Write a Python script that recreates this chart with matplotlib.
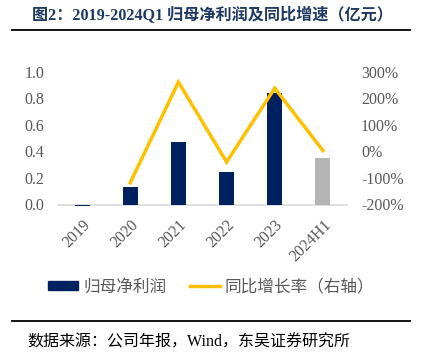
import matplotlib
matplotlib.use("Agg")
import matplotlib.pyplot as plt
from matplotlib.patches import Patch
from matplotlib.lines import Line2D

categories = ["2019", "2020", "2021", "2022", "2023", "2024H1"]
profit = [-0.01, 0.13, 0.47, 0.247, 0.84, 0.35]
growth = [None, -118, 261, -40, 238, 3]
left_ticks = [0.0, 0.2, 0.4, 0.6, 0.8, 1.0]
right_ticks = [-200, -100, 0, 100, 200, 300]

serif = ["Liberation Serif", "Noto Sans CJK SC"]
sans = ["Noto Sans CJK SC", "DejaVu Sans"]
tick_color = "#595959"

fig = plt.figure(figsize=(4.23, 3.6), dpi=100)
ax = fig.add_axes([58/423, 1-204.5/360, (347-58)/423, (204.5-71.7)/360])
ax2 = ax.twinx()

x = list(range(len(categories)))
colors = ["#002060"] * 5 + ["#B4B4B4"]
ax.bar(x, profit, width=0.31, color=colors, clip_on=False, zorder=3)
ax.set_xlim(-0.5, 5.5)
ax.set_ylim(0, 1.0)
ax.set_yticks(left_ticks)
ax.set_yticklabels([f"{v:.1f}" for v in left_ticks], family=serif, fontsize=11.5, color=tick_color)
ax.set_xticks(x)
ax.set_xticklabels(categories, rotation=45, ha="right", rotation_mode="anchor",
                   family=serif, fontsize=11.5, color=tick_color)
ax.tick_params(axis="y", length=0, pad=10)
ax.tick_params(axis="x", length=0, pad=9)
for s in ["top", "right", "left"]:
    ax.spines[s].set_visible(False)
ax.spines["bottom"].set_color("#D9D9D9")
ax.spines["bottom"].set_linewidth(1.2)
ax.spines["bottom"].set_zorder(1)

gx = [xi for xi, g in zip(x, growth) if g is not None]
gy = [g for g in growth if g is not None]
ax2.plot(gx, gy, color="#FFC000", lw=2.5, zorder=3, solid_joinstyle="miter")
ax2.set_ylim(-200, 300)
ax2.set_yticks(right_ticks)
ax2.set_yticklabels([f"{v}%" for v in right_ticks], family=serif, fontsize=11.5, color=tick_color)
ax2.tick_params(axis="y", length=0, pad=10)
for s in ax2.spines.values():
    s.set_visible(False)

handles = [Patch(color="#002060"), Line2D([0], [0], color="#FFC000", lw=2.5)]
leg = fig.legend(handles, ["归母净利润", "同比增长率（右轴）"], loc="center",
                 bbox_to_anchor=(0.5, 1-287/360), ncol=2, frameon=False,
                 prop={"family": sans, "size": 12}, handlelength=1.8,
                 handleheight=0.5, columnspacing=1.4, handletextpad=0.3)
for t in leg.get_texts():
    t.set_color(tick_color)

fig.text(32/423, 1-16/360, "图2：2019-2024Q1 归母净利润及同比增速（亿元）",
         family=serif, fontsize=11.6, fontweight="bold", color="#1F3864", va="center")
fig.add_artist(Line2D([12/423, 410/423], [1-30/360, 1-30/360], color="black", lw=1.3))
fig.add_artist(Line2D([12/423, 410/423], [1-321/360, 1-321/360], color="black", lw=1.3))
fig.text(27/423, 1-343/360, "数据来源：公司年报，Wind，东吴证券研究所",
         family=serif, fontsize=11.5, color="black", va="center")

fig.savefig("out.png", dpi=100)
